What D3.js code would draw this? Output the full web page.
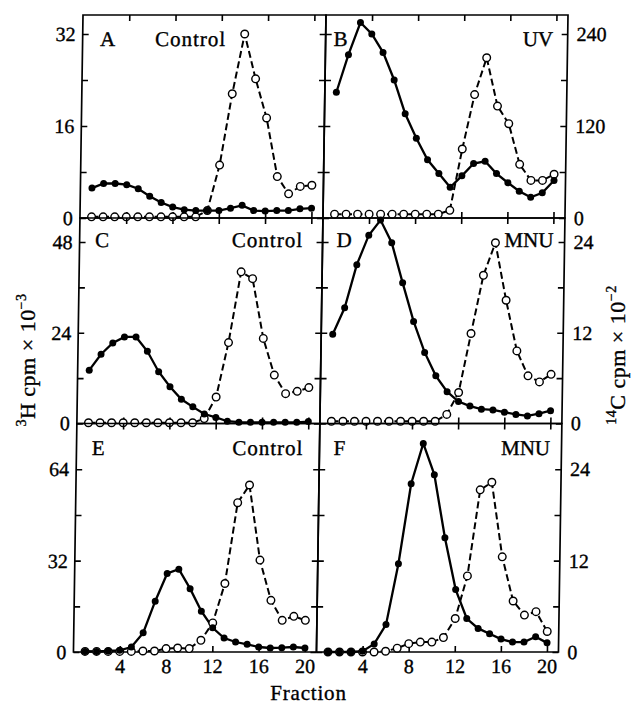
<!DOCTYPE html>
<html>
<head>
<meta charset="utf-8">
<script src="https://cdn.jsdelivr.net/npm/d3@7"></script>
<style>
    body { margin: 0; background: #fff; }
    svg text { font-family: "Liberation Serif", "Times New Roman", serif; fill: #000; stroke: #000; stroke-width: 0.35px; }
</style>
</head>
<body>
<svg id="chart" width="635" height="713"></svg>
<script>
// fractions 1..20 along the gradient
const fractions = d3.range(1, 21);
const fractionTicks = [4, 8, 12, 16, 20];

// values, in units of each panel's labelled axis
const aFilled = [5.2, 6.0, 6.0, 5.8, 5.1, 3.8, 2.7, 1.9, 1.45, 1.3, 1.3, 1.3, 1.7, 2.2, 1.3, 1.2, 1.3, 1.3, 1.6, 1.7];
const aOpen = [0.2, 0.2, 0.2, 0.2, 0.2, 0.2, 0.2, 0.2, 0.2, 0.2, 1.3, 9.2, 21.6, 32.0, 24.2, 17.4, 7.2, 4.2, 5.5, 5.7];
const bFilled = [164, 213, 255, 240, 216, 180, 136, 104, 76, 58, 40, 55, 71, 74, 58, 46, 35, 27, 33, 49];
const bOpen = [5, 5, 5, 5, 5, 5, 5, 5, 5, 5, 10, 90, 161, 209, 146, 123, 70, 49, 49, 57];
const cFilled = [14.1, 18.3, 21.3, 22.9, 22.9, 19.1, 13.7, 9.7, 6.4, 4.4, 2.5, 1.6, 0.6, 0.35, 0.3, 0.3, 0.3, 0.3, 0.3, 0.5];
const cOpen = [0.2, 0.2, 0.2, 0.2, 0.2, 0.2, 0.2, 0.2, 0.2, 0.2, 1.3, 7.0, 21.4, 40.1, 38.3, 22.5, 12.8, 7.9, 8.5, 9.5];
const dFilled = [11.8, 15.3, 21.0, 24.9, 26.9, 23.9, 18.6, 13.5, 9.4, 6.3, 4.2, 2.9, 2.3, 1.9, 1.8, 1.5, 1.2, 1.0, 1.3, 1.7];
const dOpen = [0.3, 0.3, 0.3, 0.3, 0.3, 0.3, 0.3, 0.3, 0.3, 0.3, 1.2, 4.1, 11.9, 19.6, 23.9, 16.3, 9.6, 6.3, 5.5, 6.5];
const eFilled = [0.2, 0.2, 0.35, 0.6, 1.75, 6.7, 17.8, 27.5, 29.0, 22.2, 14.3, 8.5, 4.9, 3.5, 2.7, 1.75, 1.4, 1.5, 1.75, 1.4];
const eOpen = [0.2, 0.2, 0.2, 0.2, 0.2, 0.35, 0.35, 1.2, 1.4, 1.2, 4.1, 10.2, 24.0, 52.3, 58.5, 32.2, 18.1, 11.1, 12.5, 11.1];
const fFilled = [0, 0, 0, 0.1, 1.06, 3.6, 11.6, 22.1, 27.4, 23.3, 15.0, 8.2, 4.4, 3.1, 2.4, 1.7, 1.3, 1.3, 2.0, 1.2];
const fOpen = [0, 0, 0, 0, 0, 0.1, 0.5, 1.1, 1.3, 1.3, 1.9, 4.4, 10.0, 21.3, 22.3, 12.5, 6.7, 4.85, 5.3, 2.7];

// y ticks (all drawn) and the ones that carry a number
const aTicks = [0, 8, 16, 24, 32], aLabels = [0, 16, 32];
const bTicks = [0, 60, 120, 180, 240], bLabels = [0, 120, 240];
const cTicks = [0, 12, 24, 36, 48], cLabels = [0, 24, 48];
const dTicks = [0, 6, 12, 18, 24], dLabels = [0, 12, 24];
const eTicks = [0, 16, 32, 48, 64], eLabels = [0, 32, 64];
const fTicks = [0, 6, 12, 18, 24], fLabels = [0, 12, 24];

const panelNames = ['A', 'B', 'C', 'D', 'E', 'F'];
const treatments = ['Control', 'UV', 'Control', 'MNU', 'Control', 'MNU'];

let panels = [
    {filled: aFilled, open: aOpen, ticks: aTicks, labels: aLabels},
    {filled: bFilled, open: bOpen, ticks: bTicks, labels: bLabels},
    {filled: cFilled, open: cOpen, ticks: cTicks, labels: cLabels},
    {filled: dFilled, open: dOpen, ticks: dTicks, labels: dLabels},
    {filled: eFilled, open: eOpen, ticks: eTicks, labels: eLabels},
    {filled: fFilled, open: fOpen, ticks: fTicks, labels: fLabels}
];

// layout (pixels)
let colX = [83, 326, 568];
let rowY = [15, 218, 423.5, 652];
let topTickY = [34, 242, 469.3];   // where the highest tick of each row sits
let letterDx = [17.5, 8, 15.5, 14, 15.3, 14];
let tagEnd = [null, 553.5, 306.5, 556.8, 310, 556.6];
let letterBase = [46, 46, 247, 247, 455, 455];
let shear = -0.015;   // the printed figure leans a little to the left
let tick = 6;

let svg = d3.select('#chart');
let fig = svg.append('g')
    .attr('transform', 'translate(0,15) skewX(' + (Math.atan(shear) * 180 / Math.PI) + ') translate(0,-15)');

let line = d3.line();

panels.forEach(function (p, i) {
    let col = i % 2;
    let row = Math.floor(i / 2);
    let x0 = colX[col], x1 = colX[col + 1];
    let y0 = rowY[row], y1 = rowY[row + 1];

    let x = d3.scaleLinear().domain([0, 21]).range([x0, x1]);
    let y = d3.scaleLinear().domain([0, p.ticks[p.ticks.length - 1]]).range([y1, topTickY[row]]);

    let g = fig.append('g');
    let fmt = d => p.labels.includes(d) ? d : '';

    // y axes on both sides, ticks pointing inward
    let left = g.append('g')
        .attr('transform', 'translate(' + x0 + ',0)')
        .call(d3.axisLeft(y).tickValues(p.ticks).tickSize(-tick).tickSizeOuter(0)
            .tickPadding(7).tickFormat(col === 0 ? fmt : ''));
    let right = g.append('g')
        .attr('transform', 'translate(' + x1 + ',0)')
        .call(d3.axisRight(y).tickValues(p.ticks).tickSize(-tick).tickSizeOuter(0)
            .tickPadding(9).tickFormat(col === 1 ? fmt : ''));
    let top = g.append('g')
        .attr('transform', 'translate(0,' + y0 + ')')
        .call(d3.axisTop(x).tickValues(fractionTicks).tickSize(-tick).tickSizeOuter(0).tickFormat(''));
    let bottom = g.append('g')
        .attr('transform', 'translate(0,' + y1 + ')')
        .call(d3.axisBottom(x).tickValues(fractionTicks).tickSize(-tick).tickSizeOuter(0)
            .tickPadding(7).tickFormat(row === 2 ? d => d : ''));

    [left, right, top, bottom].forEach(function (a) {
        a.select('.domain').remove();
        a.selectAll('line').attr('stroke', '#000').attr('stroke-width', 1.6);
        a.selectAll('text').attr('font-size', 20).attr('font-family', '"Liberation Serif", serif');
    });

    // frame
    g.append('rect')
        .attr('x', x0).attr('y', y0)
        .attr('width', x1 - x0).attr('height', y1 - y0)
        .attr('fill', 'none')
        .attr('stroke', '#000')
        .attr('stroke-width', 1.7);

    // open circles, dashed
    let openPts = fractions.map((f, k) => [x(f), y(p.open[k])]);
    let filledPts = fractions.map((f, k) => [x(f), y(p.filled[k])]);

    g.append('path')
        .attr('d', line(openPts))
        .attr('fill', 'none')
        .attr('stroke', '#000')
        .attr('stroke-width', 2)
        .attr('stroke-dasharray', '7,3.5');

    g.append('path')
        .attr('d', line(filledPts))
        .attr('fill', 'none')
        .attr('stroke', '#000')
        .attr('stroke-width', 2.3);

    g.selectAll('.open')
        .data(openPts)
        .enter().append('circle')
        .attr('class', 'open')
        .attr('cx', d => d[0])
        .attr('cy', d => d[1])
        .attr('r', 3.8)
        .attr('fill', '#fff')
        .attr('stroke', '#000')
        .attr('stroke-width', 1.4);

    g.selectAll('.filled')
        .data(filledPts)
        .enter().append('circle')
        .attr('class', 'filled')
        .attr('cx', d => d[0])
        .attr('cy', d => d[1])
        .attr('r', 3.5)
        .attr('fill', '#000');

    // panel letter and treatment
    g.append('text')
        .attr('x', x0 + letterDx[i])
        .attr('y', letterBase[i])
        .attr('font-size', 21)
        .text(panelNames[i]);

    let tag = g.append('text')
        .attr('y', letterBase[i])
        .attr('font-size', 21)
        .attr('letter-spacing', treatments[i] === 'Control' ? 1 : 0)
        .text(treatments[i]);
    if (tagEnd[i] === null) {
        tag.attr('x', 155.5);
    } else {
        tag.attr('x', tagEnd[i]).attr('text-anchor', 'end');
    }
});

// axis titles
let leftTitle = svg.append('text')
    .attr('transform', 'translate(35,360) rotate(-90)')
    .attr('text-anchor', 'middle')
    .attr('font-size', 22)
    .attr('letter-spacing', 0.5);
leftTitle.append('tspan').attr('font-size', 14).attr('dy', -9).text('3');
leftTitle.append('tspan').attr('dy', 9).text('H cpm \u00d7 10');
leftTitle.append('tspan').attr('font-size', 14).attr('dy', -9).text('\u22123');

let rightTitle = svg.append('text')
    .attr('transform', 'translate(625,355) rotate(-90)')
    .attr('text-anchor', 'middle')
    .attr('font-size', 22)
    .attr('letter-spacing', 0.5);
rightTitle.append('tspan').attr('font-size', 14).attr('dy', -9).text('14');
rightTitle.append('tspan').attr('dy', 9).text('C cpm \u00d7 10');
rightTitle.append('tspan').attr('font-size', 14).attr('dy', -9).text('\u22122');

svg.append('text')
    .attr('x', 308.5)
    .attr('y', 700)
    .attr('text-anchor', 'middle')
    .attr('font-size', 21)
    .attr('letter-spacing', 0.8)
    .text('Fraction');
</script>
</body>
</html>
